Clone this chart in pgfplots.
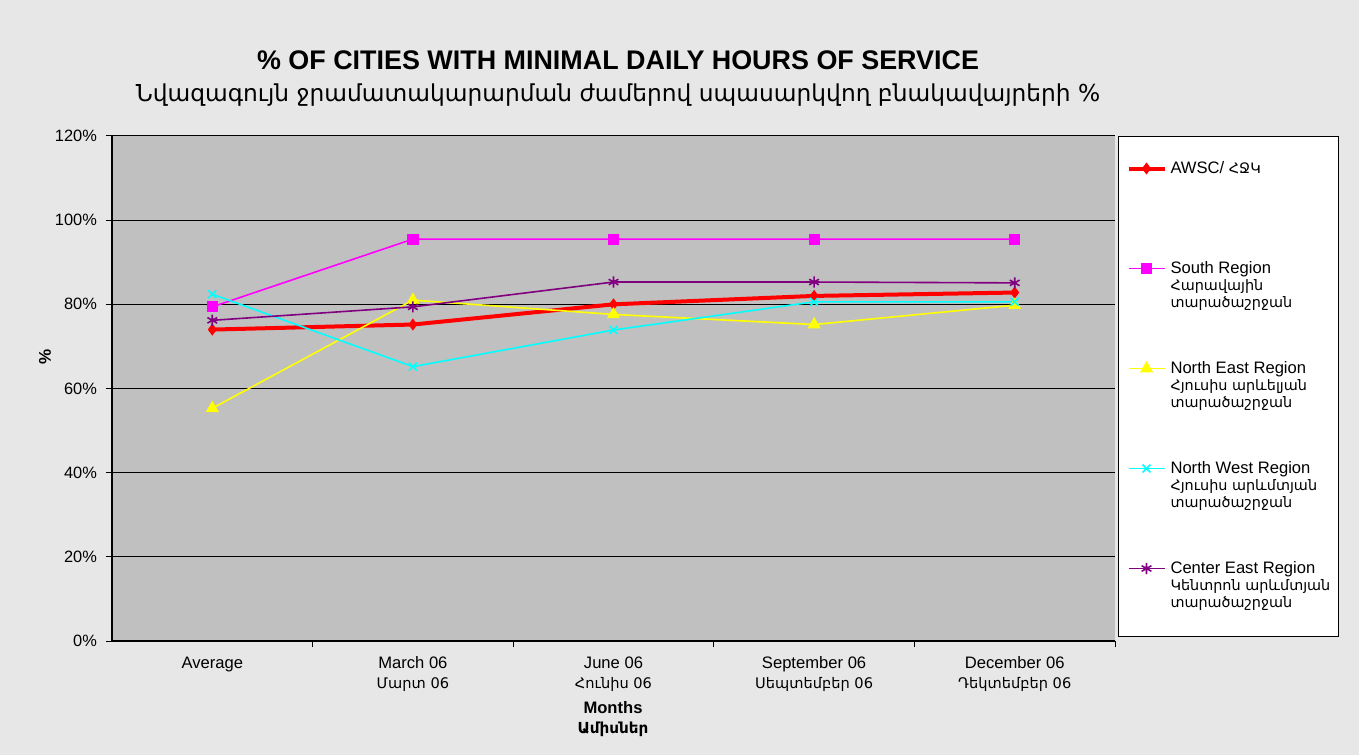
\documentclass[border=0pt]{standalone}
\usepackage{fontspec}
\setmainfont{Liberation Sans}
\newfontfamily\arm{DejaVu Sans}
\usepackage{pgfplots}
\pgfplotsset{compat=1.18}
\definecolor{bgc}{RGB}{231,231,231}
\definecolor{silver}{RGB}{192,192,192}
\definecolor{mag}{RGB}{255,0,255}
\definecolor{yel}{RGB}{255,255,0}
\definecolor{cya}{RGB}{0,255,255}
\definecolor{pur}{RGB}{128,0,128}
\newcommand{\armL}{\arm\fontsize{7.2}{8.4}\selectfont}
\newcommand{\armT}{\arm\fontsize{7.3}{10}\selectfont}
\newcommand{\lent}[1]{\rule[-34pt]{0pt}{50pt}\smash{\raisebox{-0.33em}{\parbox[t]{82pt}{\raggedright #1}}}}
\begin{document}
\begin{tikzpicture}
\path[use as bounding box, fill=bgc] (-56pt,-57pt) rectangle (623.5pt,320.5pt);
\begin{axis}[
  scale only axis, width=501.5pt, height=252.5pt,
  at={(0pt,0pt)}, anchor=south west,
  xmin=-0.5, xmax=4.5, ymin=0, ymax=120,
  axis lines*=left, axis line style={-, black, line width=0.6pt},
  axis background/.style={fill=silver},
  tick align=outside,
  ytick={0,20,40,60,80,100,120},
  yticklabels={0\%,20\%,40\%,60\%,80\%,100\%,120\%},
  ymajorgrids, grid style={black, line width=0.5pt},
  major tick length=3pt, minor tick length=3pt,
  ytick style={black, line width=0.5pt},
  xtick={0,1,2,3,4},
  major x tick style={draw=none},
  minor xtick={0.5,1.5,2.5,3.5,4.5},
  minor x tick style={black, line width=0.5pt},
  xticklabels={Average, March 06\\{\armT Մարտ 06}, June 06\\{\armT Հունիս 06}, September 06\\{\armT Սեպտեմբեր 06}, December 06\\{\armT Դեկտեմբեր 06}},
  xticklabel style={align=center, font=\fontsize{8.3}{10}\selectfont, anchor=north, yshift=-1.3pt},
  yticklabel style={font=\fontsize{8.2}{10}\selectfont, xshift=-1pt},
  legend cell align=left,
  legend style={at={(1.003,1)}, anchor=north west, draw=black, line width=0.5pt, fill=white,
    inner sep=0pt, row sep=0pt, column sep=0pt,
    cells={anchor=base west},
    nodes={inner xsep=2pt, inner ysep=0pt, text depth=},
    font=\fontsize{8.3}{8.4}\selectfont},
  legend image code/.code={\path (0pt,0pt) (22pt,0pt);
    \draw[mark repeat=2,mark phase=2] plot coordinates {(4pt,0pt) (13pt,0pt) (22pt,0pt)};},
]
\addplot[red, line width=2pt, mark=diamond*, mark size=2.6pt, mark options={solid, line width=0.5pt}] coordinates {(0,74.0) (1,75.2) (2,80.0) (3,82.0) (4,82.8)};
\addlegendentry{\lent{AWSC/ {\armL ՀՋԿ}}}
\addplot[mag, line width=0.8pt, mark=square*, mark size=2.4pt, mark options={solid}] coordinates {(0,79.4) (1,95.5) (2,95.5) (3,95.5) (4,95.5)};
\addlegendentry{\lent{South Region\\{\armL Հարավային}\\{\armL տարածաշրջան}}}
\addplot[yel, line width=0.8pt, mark=triangle*, mark size=3pt, mark options={solid}] coordinates {(0,55.3) (1,81.0) (2,77.6) (3,75.2) (4,79.8)};
\addlegendentry{\lent{North East Region\\{\armL \mbox{Հյուսիս արևելյան}}\\{\armL տարածաշրջան}}}
\addplot[cya, line width=0.8pt, mark=x, mark size=2.8pt, mark options={solid, line width=0.8pt}] coordinates {(0,82.4) (1,65.2) (2,73.9) (3,80.6) (4,80.6)};
\addlegendentry{\lent{North West Region\\{\armL \mbox{Հյուսիս արևմտյան}}\\{\armL տարածաշրջան}}}
\addplot[pur, line width=0.8pt, mark=asterisk, mark size=2.8pt, mark options={solid, line width=0.8pt}] coordinates {(0,76.2) (1,79.4) (2,85.3) (3,85.3) (4,85.1)};
\addlegendentry{\lent{Center East Region\\{\armL \mbox{Կենտրոն արևմտյան}}\\{\armL տարածաշրջան}}}
\end{axis}
\node[font=\bfseries\fontsize{13.45}{15}\selectfont] at (253pt,290.5pt) {\% OF CITIES WITH MINIMAL DAILY HOURS OF SERVICE};
\node[font=\arm\fontsize{11.66}{14}\selectfont] at (253pt,273pt) {Նվազագույն ջրամատակարարման ժամերով սպասարկվող բնակավայրերի \%};
\node[font=\bfseries\fontsize{8.5}{10}\selectfont, rotate=90] at (-33.5pt,142pt) {\%};
\node[font=\bfseries\fontsize{8.3}{10}\selectfont] at (250.5pt,-33.5pt) {Months};
\node[font=\arm\bfseries\fontsize{7.6}{10}\selectfont] at (250.5pt,-44pt) {Ամիսներ};
\end{tikzpicture}
\end{document}
